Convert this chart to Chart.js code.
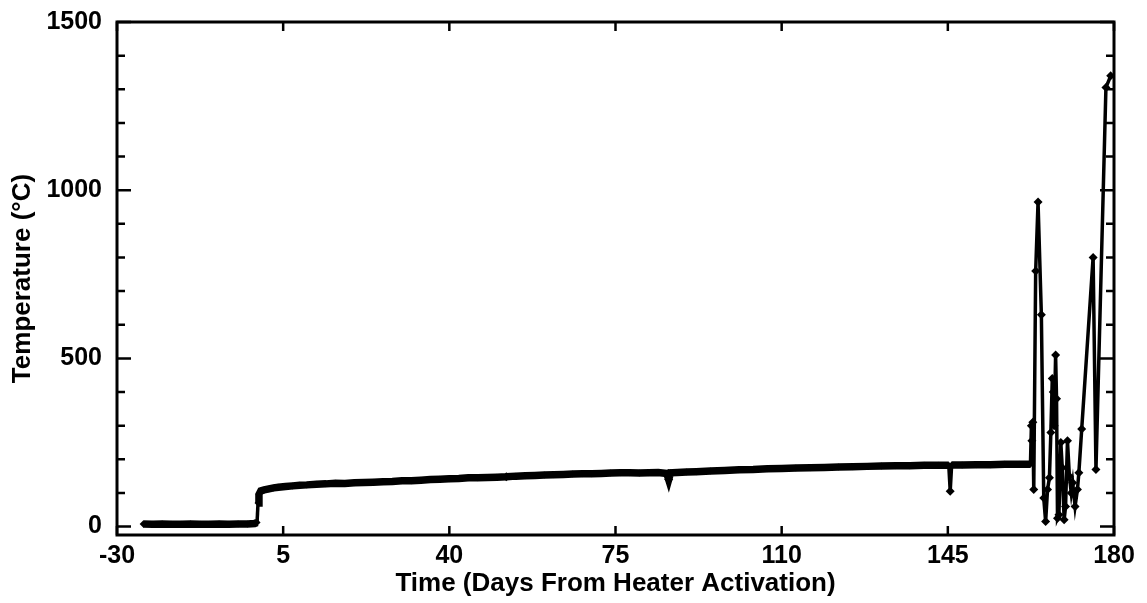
<!DOCTYPE html>
<html>
<head>
<meta charset="utf-8">
<script src="https://cdn.jsdelivr.net/npm/chart.js@4.4.1/dist/chart.umd.min.js"></script>
<style>
  html, body { margin: 0; padding: 0; background: #fff; }
</style>
</head>
<body>
<canvas id="chart" width="1147" height="603"></canvas>
<script>
// [day, temperature °C]
const baseline = [
  [-24.5, 8], [-22.5, 7], [-20.5, 8], [-18.5, 7], [-16.5, 7], [-14.5, 8], [-12.5, 7],
  [-10.5, 7], [-8.5, 8], [-6.5, 7], [-4.5, 8], [-2.5, 8], [-1.0, 9], [-0.5, 12]
];
const heating = [
  [-0.3, 70], [-0.1, 95], [0.3, 106], [1, 109], [2, 112], [3, 115], [4, 117], [5.5, 119],
  [7, 121], [8.5, 123], [10, 124], [12, 126], [14, 127], [16, 129], [18, 128], [20, 130],
  [22, 131], [24, 132], [26, 133], [28, 134], [30, 136], [32, 136], [34, 138], [36, 140],
  [38, 141], [40, 142], [42, 143], [44, 145], [46, 145], [48, 146], [50, 147], [52, 148],
  [54, 150], [56, 151], [58, 152], [60, 153], [62, 154], [64, 155], [66, 156], [68, 157],
  [70, 157], [72, 158], [74, 159], [76, 160], [78, 160], [80, 159], [82, 160], [84, 161],
  [85.8, 158], [86.2, 140], [86.6, 160], [88, 161], [90, 162], [92, 163], [95, 165],
  [98, 167], [101, 169], [104, 170], [107, 172], [110, 173], [113, 174], [116, 175],
  [119, 176], [122, 177], [125, 178], [128, 179], [131, 180], [134, 181], [137, 181],
  [140, 182], [143, 182], [145.2, 182], [145.5, 105], [145.8, 183], [148, 183], [151, 184],
  [154, 184], [157, 185], [160, 185], [162.4, 185]
];
const failure = [
  [162.6, 300], [162.7, 255], [162.9, 310], [163.1, 110], [163.5, 760], [164.0, 965],
  [164.7, 630], [165.2, 85], [165.6, 15], [166.0, 110], [166.4, 145], [166.7, 280],
  [167.0, 440], [167.2, 400], [167.4, 300], [167.7, 510], [167.9, 380], [168.1, 25],
  [168.4, 35], [168.8, 250], [169.1, 175], [169.5, 20], [169.8, 60], [170.2, 255],
  [170.6, 150], [171.0, 100], [171.3, 130], [171.8, 60], [172.3, 110], [172.6, 160],
  [173.2, 290], [175.6, 800], [176.2, 170], [178.3, 1305], [179.3, 1340]
];

const xTicks = [-30, 5, 40, 75, 110, 145, 180];
const yTicks = [0, 500, 1000, 1500];
const yMinorTicks = [100, 200, 300, 400, 600, 700, 800, 900, 1100, 1200, 1300, 1400];

const points = baseline.concat(heating, failure).map(p => ({x: p[0], y: p[1]}));
const lastDense = heating[heating.length - 1][0];

const framePlugin = {
  id: 'frame',
  afterDraw(chart) {
    const {ctx, chartArea: a, scales: {x, y}} = chart;
    ctx.save();
    ctx.strokeStyle = '#000';
    ctx.lineWidth = 3;
    ctx.strokeRect(a.left, a.top, a.right - a.left, a.bottom - a.top);
    ctx.lineWidth = 2.5;
    ctx.beginPath();
    xTicks.forEach(v => {
      const px = x.getPixelForValue(v);
      ctx.moveTo(px, a.bottom); ctx.lineTo(px, a.bottom - 9);
      ctx.moveTo(px, a.top); ctx.lineTo(px, a.top + 9);
    });
    yTicks.forEach(v => {
      const py = y.getPixelForValue(v);
      ctx.moveTo(a.left, py); ctx.lineTo(a.left + 14, py);
      ctx.moveTo(a.right, py); ctx.lineTo(a.right - 14, py);
    });
    yMinorTicks.forEach(v => {
      const py = y.getPixelForValue(v);
      ctx.moveTo(a.left, py); ctx.lineTo(a.left + 8, py);
      ctx.moveTo(a.right, py); ctx.lineTo(a.right - 8, py);
    });
    ctx.stroke();
    ctx.restore();
  }
};

const tickFont = {family: '"Liberation Sans", Arial, sans-serif', size: 25, weight: 'bold'};
const titleFont = {family: '"Liberation Sans", Arial, sans-serif', size: 26, weight: 'bold'};

new Chart(document.getElementById('chart'), {
  type: 'line',
  data: {
    datasets: [{
      data: points,
      borderColor: '#000',
      backgroundColor: '#000',
      borderWidth: 3.5,
      pointStyle: 'rectRot',
      pointRadius: c => (c.raw && (c.raw.x > lastDense || c.raw.y < 150 && c.raw.x > 50)) ? 4.5 : 3.5,
      pointBorderWidth: 0,
      tension: 0,
      segment: {
        // sharp jumps are drawn thin, the dense logged run is a thick band
        borderWidth: c => {
          if (Math.abs(c.p1.parsed.y - c.p0.parsed.y) > 25) return 3.5;
          return points[c.p1DataIndex].x <= lastDense ? 7.5 : 3.5;
        }
      }
    }]
  },
  options: {
    responsive: false,
    animation: false,
    layout: {padding: {top: 12, right: 33, left: 0, bottom: 0}},
    plugins: {legend: {display: false}, tooltip: {enabled: false}},
    scales: {
      x: {
        type: 'linear',
        min: -30, max: 180,
        grid: {display: false},
        border: {display: false},
        afterBuildTicks: s => { s.ticks = xTicks.map(v => ({value: v})); },
        afterFit: s => { s.height = 68; },
        ticks: {color: '#000', font: tickFont, padding: -2, maxRotation: 0, autoSkip: false,
                callback: v => String(v)},
        title: {display: true, text: 'Time (Days From Heater Activation)', color: '#000', font: titleFont, padding: {top: 0, bottom: 4}}
      },
      y: {
        min: -25, max: 1500,
        grid: {display: false},
        border: {display: false},
        afterBuildTicks: s => { s.ticks = yTicks.map(v => ({value: v})); },
        afterFit: s => { s.width = 117; },
        ticks: {color: '#000', font: tickFont, padding: 7, callback: v => String(v)},
        title: {display: true, text: 'Temperature (°C)', color: '#000', font: titleFont, padding: {top: 7, bottom: 0}}
      }
    }
  },
  plugins: [framePlugin]
});
</script>
</body>
</html>
